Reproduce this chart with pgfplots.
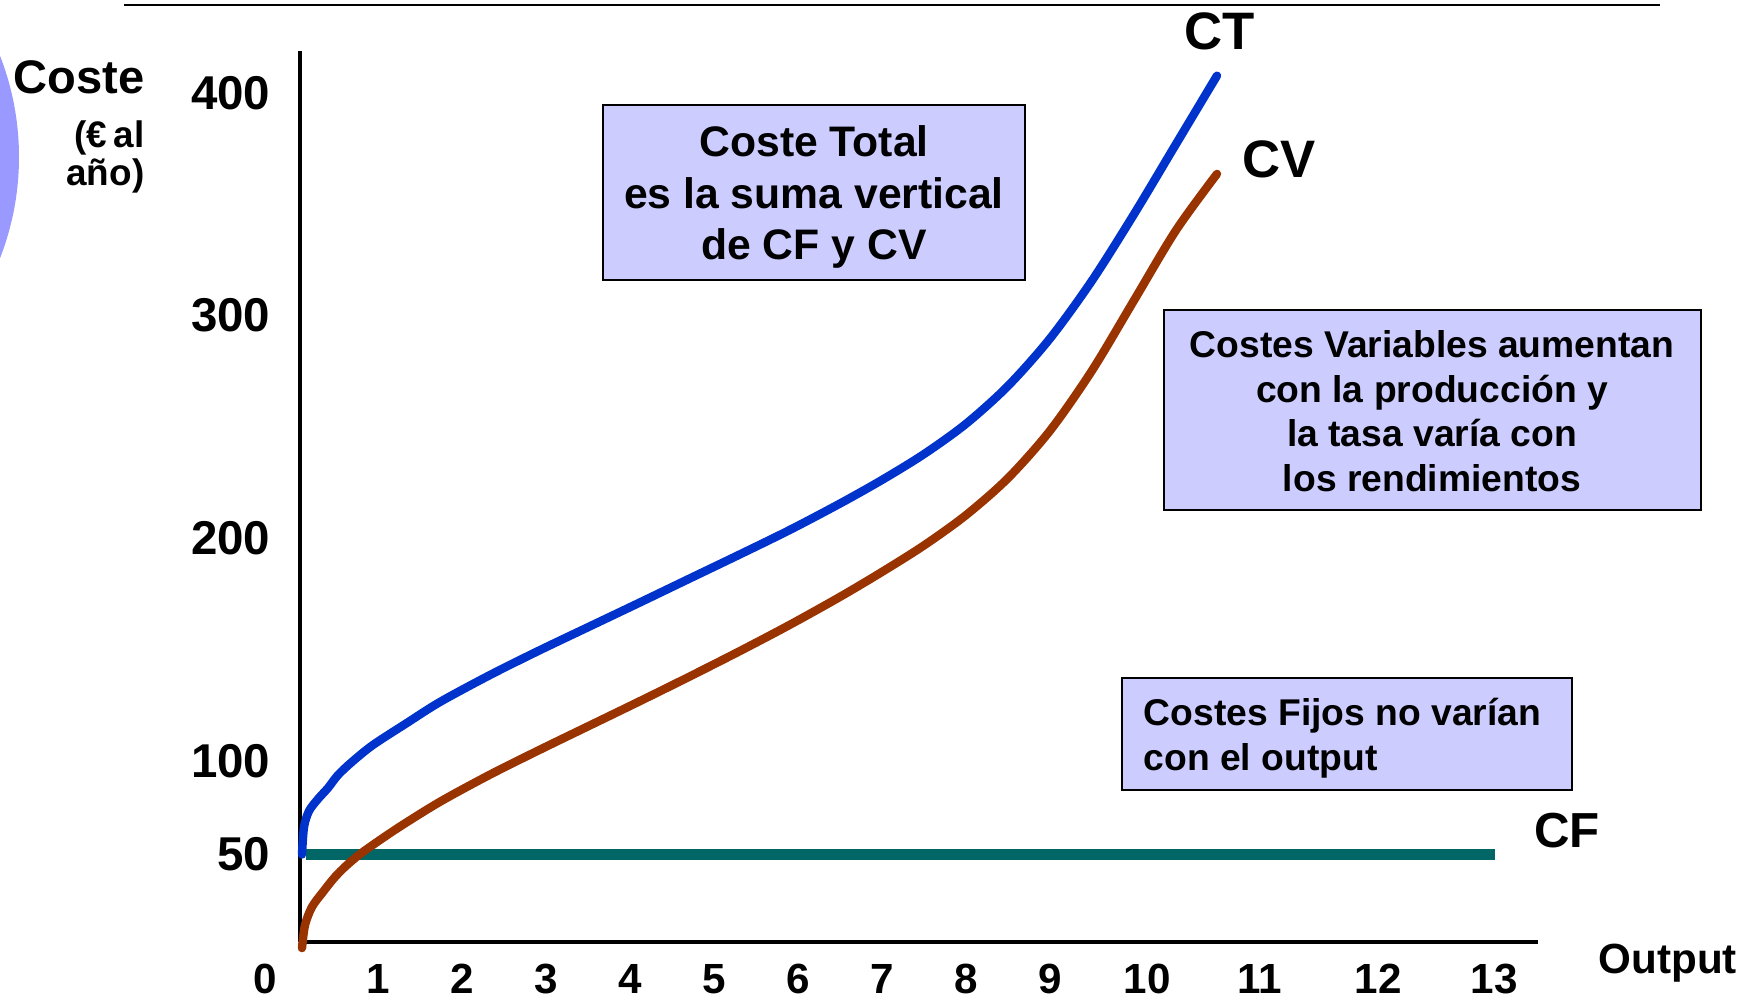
\documentclass[border=0pt]{standalone}
\usepackage{fontspec}
\setmainfont{Liberation Sans}
\usepackage{pgfplots}
\pgfplotsset{compat=1.18}
\definecolor{ctblue}{HTML}{0033CC}
\definecolor{cvbrown}{HTML}{993300}
\definecolor{cfteal}{HTML}{006666}
\definecolor{boxfill}{HTML}{CCCCFF}
\definecolor{circfill}{HTML}{9999FF}

\pgfplotstableread{
x y
0.095 50
0.119 64.7
0.179 73.3
0.286 79.7
0.405 85.6
0.524 92.5
0.690 99.5
0.940 107.2
1.345 117.1
1.738 126.5
2.333 138.6
2.929 149.8
3.524 160.5
4.119 171.2
4.714 182.0
5.310 192.8
5.905 203.8
6.500 215.6
7.000 226.2
7.500 237.8
8.000 251.4
8.500 268.4
9.000 289.7
9.500 315.7
10.000 345.5
10.500 377.0
10.988 407.7
}\ctdata

\pgfplotstableread{
x y
0.095 0
0.131 12.3
0.214 22.0
0.345 30.0
0.488 38.0
0.631 44.4
0.821 51.4
1.226 63.9
1.738 78.2
2.333 92.7
2.929 105.1
3.524 116.0
4.119 126.9
4.714 138.0
5.310 149.4
5.905 161.2
6.500 173.7
7.000 184.9
7.500 196.8
8.000 210.4
8.500 227.0
9.000 248.3
9.500 275.3
10.000 306.8
10.500 338.3
10.988 363.6
}\cvdata

\pgfplotstableread{
x y
0.143 50
14.298 50
}\cfdata

\begin{document}
\begin{tikzpicture}[x=1mm,y=1mm]
\path[use as bounding box] (0,0) rectangle (176.2,100.1);
\begin{scope}
\clip (0,0) rectangle (176.2,100.1);
\fill[circfill] (-25.9,84.4) circle[radius=27.8];
\end{scope}
\draw[line width=0.65pt] (12.4,99.6) -- (166.0,99.6);

% y-axis title
\node[anchor=base east, inner sep=0pt, font=\bfseries\fontsize{13.4}{15}\selectfont] at (14.5,90.8) {Coste};
\node[anchor=base east, inner sep=0pt, font=\bfseries\fontsize{10.5}{12}\selectfont] at (14.5,85.4) {(€\hspace{0.6mm}al};
\node[anchor=base east, inner sep=0pt, font=\bfseries\fontsize{10.5}{12}\selectfont] at (14.5,81.6) {año)};

% boxes
\draw[fill=boxfill, line width=0.7pt] (60.3,89.6) rectangle (102.5,72.1);
\node[align=center, inner sep=0pt, font=\bfseries\fontsize{12.15}{14.7}\selectfont] at (81.4,80.4) {Coste Total\\es la suma vertical\\de CF y CV};

\draw[fill=boxfill, line width=0.7pt] (116.4,69.1) rectangle (170.1,49.1);
\node[align=center, inner sep=0pt, font=\bfseries\fontsize{10.6}{12.7}\selectfont] at (143.2,59.0) {Costes Variables aumentan\\con la producción y\\la tasa varía con\\los rendimientos};

\draw[fill=boxfill, line width=0.7pt] (112.2,32.3) rectangle (157.2,21.1);
\node[anchor=base west, inner sep=0pt, font=\bfseries\fontsize{10.6}{12.7}\selectfont] at (114.3,27.6) {Costes Fijos no varían};
\node[anchor=base west, inner sep=0pt, font=\bfseries\fontsize{10.6}{12.7}\selectfont] at (114.3,23.1) {con el output};

% curve labels
\node[inner sep=0pt, font=\bfseries\fontsize{15}{18}\selectfont] at (122.0,97.0) {CT};
\node[inner sep=0pt, font=\bfseries\fontsize{15}{18}\selectfont] at (127.9,84.2) {CV};
\node[inner sep=0pt, font=\bfseries\fontsize{14}{17}\selectfont] at (156.7,17.0) {CF};
\node[anchor=base west, inner sep=0pt, font=\bfseries\fontsize{12}{14}\selectfont] at (159.8,2.8) {Output};
\node[inner sep=0pt, font=\bfseries\fontsize{12}{14}\selectfont] at (26.5,2.2) {0};

\begin{axis}[
  at={(30mm,5.9mm)}, anchor=south west,
  scale only axis, width=123.8mm, height=89.1mm,
  xmin=0.0714, xmax=14.81, ymin=3.24, ymax=418.8,
  y coord trafo/.code={\pgfmathparse{(#1<100)*(100-(100-#1)*0.84)+(#1>=100)*#1}},
  y coord inv trafo/.code={\pgfmathparse{(#1<100)*(100-(100-#1)/0.84)+(#1>=100)*#1}},
  axis lines=left,
  axis line style={-, line width=1.05pt, black},
  xtick={1,2,3,4,5,6,7,8,9,10.155,11.5,12.905,14.286},
  xticklabels={1,2,3,4,5,6,7,8,9,10,11,12,13},
  ytick={50,100,200,300,400},
  yticklabels={50,100,200,300,400},
  major tick length=0pt,
  /pgf/number format/assume math mode=true,
  xticklabel style={anchor=center, inner sep=0pt, yshift=-3.7mm, font=\bfseries\fontsize{12}{14}\selectfont},
  yticklabel style={anchor=east, inner sep=0pt, xshift=-2.9mm, font=\bfseries\fontsize{13.5}{16}\selectfont},
  clip=false,
]
\addplot[cfteal, line width=2.95pt, line cap=butt] table[x=x,y=y] {\cfdata};
\addplot[cvbrown, line width=2.4pt, line cap=round, line join=round, smooth] table[x=x,y=y] {\cvdata};
\addplot[ctblue, line width=2.4pt, line cap=round, line join=round, smooth] table[x=x,y=y] {\ctdata};
\end{axis}
\end{tikzpicture}
\end{document}
